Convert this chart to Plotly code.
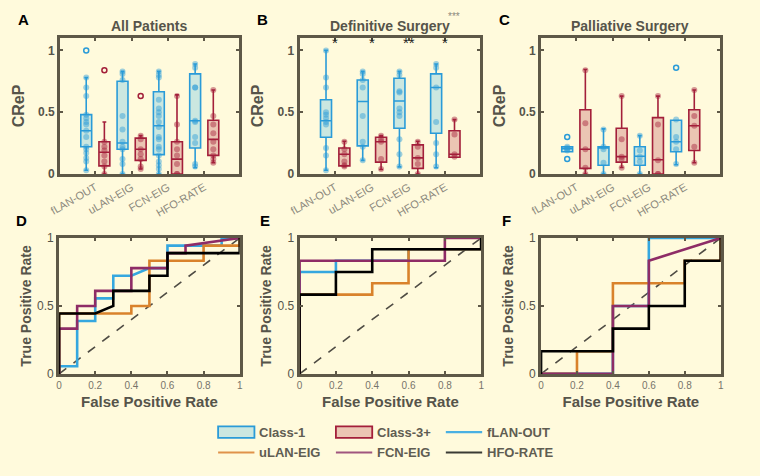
import plotly.graph_objects as go

# box statistics, order: Class-1 / Class-3+ for fLAN-OUT, uLAN-EIG, FCN-EIG, HFO-RATE
GROUPS = ["fLAN-OUT", "uLAN-EIG", "FCN-EIG", "HFO-RATE"]

A_Q1 = [0.22, 0.065, 0.20, 0.11, 0.156, 0.0, 0.21, 0.15]
A_MED = [0.35, 0.175, 0.25, 0.20, 0.39, 0.12, 0.43, 0.28]
A_Q3 = [0.48, 0.26, 0.75, 0.29, 0.665, 0.26, 0.81, 0.435]
A_LO = [0.03, 0.0, 0.0, 0.04, 0.0, 0.0, 0.05, 0.09]
A_HI = [0.78, 0.42, 0.83, 0.31, 0.83, 0.64, 0.89, 0.68]
A_OUT = [[1.0], [0.84], [], [0.63], [], [], [], []]
A_PTS = [
    [0.78, 0.70, 0.63, 0.48, 0.45, 0.42, 0.40, 0.35, 0.30, 0.22, 0.20, 0.17, 0.13, 0.10, 0.03],
    [0.26, 0.22, 0.19, 0.15, 0.10, 0.06, 0.0],
    [0.83, 0.81, 0.76, 0.47, 0.36, 0.26, 0.22, 0.20, 0.12, 0.08, 0.0],
    [0.31, 0.28, 0.20, 0.16, 0.12, 0.06, 0.04],
    [0.83, 0.80, 0.78, 0.60, 0.53, 0.50, 0.47, 0.42, 0.38, 0.30, 0.28, 0.22, 0.20, 0.15, 0.10, 0.07, 0.04, 0.0],
    [0.63, 0.40, 0.26, 0.20, 0.15, 0.08, 0.0, 0.0],
    [0.89, 0.86, 0.70, 0.70, 0.43, 0.42, 0.30, 0.25, 0.08, 0.06],
    [0.68, 0.47, 0.40, 0.33, 0.26, 0.20, 0.15, 0.12, 0.09],
]

B_Q1 = [0.297, 0.065, 0.227, 0.096, 0.37, 0.045, 0.33, 0.135]
B_MED = [0.43, 0.16, 0.586, 0.26, 0.59, 0.13, 0.70, 0.16]
B_Q3 = [0.60, 0.21, 0.76, 0.297, 0.775, 0.235, 0.81, 0.35]
B_LO = [0.03, 0.06, 0.11, 0.036, 0.057, 0.0, 0.05, 0.135]
B_HI = [1.0, 0.265, 0.83, 0.31, 0.83, 0.265, 0.89, 0.44]
B_OUT = [[], [], [], [], [], [], [], []]
B_PTS = [
    [1.0, 0.78, 0.70, 0.50, 0.48, 0.45, 0.42, 0.40, 0.21, 0.15, 0.03],
    [0.26, 0.20, 0.16, 0.10, 0.07, 0.06],
    [0.83, 0.81, 0.76, 0.70, 0.47, 0.26, 0.22, 0.11],
    [0.31, 0.28, 0.26, 0.12, 0.04],
    [0.83, 0.80, 0.67, 0.66, 0.53, 0.50, 0.47, 0.28, 0.16, 0.06],
    [0.26, 0.22, 0.13, 0.08, 0.0],
    [0.89, 0.86, 0.70, 0.42, 0.25, 0.16, 0.06],
    [0.44, 0.32, 0.16, 0.14],
]
B_STARS = ["*", "*", "**", "*"]

C_Q1 = [0.18, 0.045, 0.07, 0.096, 0.07, 0.0, 0.18, 0.19]
C_MED = [0.205, 0.20, 0.21, 0.14, 0.143, 0.115, 0.26, 0.39]
C_Q3 = [0.22, 0.52, 0.22, 0.37, 0.22, 0.456, 0.435, 0.52]
C_LO = [0.18, 0.0, 0.0, 0.052, 0.0, 0.0, 0.075, 0.09]
C_HI = [0.22, 0.845, 0.365, 0.63, 0.31, 0.63, 0.435, 0.68]
C_OUT = [[0.30, 0.12], [], [], [], [], [], [0.86], []]
C_PTS = [
    [0.22, 0.21, 0.20, 0.19],
    [0.84, 0.41, 0.20, 0.05, 0.0],
    [0.36, 0.22, 0.20, 0.09, 0.0],
    [0.63, 0.28, 0.14, 0.12, 0.05],
    [0.31, 0.19, 0.14, 0.10, 0.0],
    [0.63, 0.40, 0.11, 0.0, 0.0],
    [0.44, 0.30, 0.26, 0.20, 0.08],
    [0.68, 0.47, 0.39, 0.22, 0.09],
]

# ROC curves (fpr, tpr)
ROC_D = {
    "fLAN-OUT": ([0, 0, 0.1, 0.1, 0.2, 0.2, 0.3, 0.3, 0.4, 0.5, 0.6, 0.6, 0.9, 0.9, 1],
                 [0, 0.056, 0.056, 0.389, 0.389, 0.556, 0.556, 0.722, 0.722, 0.778, 0.778, 0.944, 0.944, 1, 1]),
    "uLAN-EIG": ([0, 0, 0.4, 0.4, 0.5, 0.5, 0.8, 0.8, 1, 1],
                 [0, 0.444, 0.444, 0.5, 0.5, 0.833, 0.833, 0.944, 0.944, 1]),
    "FCN-EIG": ([0, 0, 0.1, 0.1, 0.2, 0.2, 0.4, 0.4, 0.6, 0.6, 0.7, 0.7, 1],
                [0, 0.333, 0.333, 0.5, 0.5, 0.611, 0.611, 0.778, 0.778, 0.889, 0.889, 0.944, 1]),
    "HFO-RATE": ([0, 0, 0.2, 0.3, 0.3, 0.5, 0.5, 0.6, 0.6, 1, 1],
                 [0, 0.444, 0.444, 0.5, 0.611, 0.611, 0.722, 0.722, 0.889, 0.889, 1]),
}
ROC_E = {
    "fLAN-OUT": ([0, 0, 0.2, 0.2, 0.6, 0.6, 1, 1],
                 [0, 0.75, 0.75, 0.833, 0.833, 0.917, 0.917, 1]),
    "uLAN-EIG": ([0, 0, 0.4, 0.4, 0.6, 0.6, 1, 1],
                 [0, 0.583, 0.583, 0.667, 0.667, 0.917, 0.917, 1]),
    "FCN-EIG": ([0, 0, 0.8, 0.8, 1],
                [0, 0.833, 0.833, 1, 1]),
    "HFO-RATE": ([0, 0, 0.2, 0.2, 0.4, 0.4, 1, 1],
                 [0, 0.583, 0.583, 0.75, 0.75, 0.917, 0.917, 1]),
}
ROC_F = {
    "fLAN-OUT": ([0, 0.4, 0.4, 0.6, 0.6, 1],
                 [0, 0, 0.5, 0.5, 1, 1]),
    "uLAN-EIG": ([0, 0.2, 0.2, 0.4, 0.4, 0.8, 0.8, 1, 1],
                 [0, 0, 0.167, 0.167, 0.667, 0.667, 0.833, 0.833, 1]),
    "FCN-EIG": ([0, 0.4, 0.4, 0.6, 0.6, 1],
                [0, 0, 0.5, 0.5, 0.833, 1]),
    "HFO-RATE": ([0, 0, 0.4, 0.4, 0.6, 0.6, 0.8, 0.8, 1, 1],
                 [0, 0.167, 0.167, 0.333, 0.333, 0.5, 0.5, 0.833, 0.833, 1]),
}

BG = "#FFFADC"
FRAME = "#5E5847"
TXT = "#56544A"
TICK = "#77746A"
BLUE = "#2A9BD8"
RED = "#A31F3A"
BLUE_FILL = "#CBE7E0"
RED_FILL = "#EBC5B3"
LINE_COLORS = {"fLAN-OUT": "#35A7DF", "uLAN-EIG": "#D9822B", "FCN-EIG": "#8E2C66", "HFO-RATE": "#000000"}
LEGEND_COLORS = {"fLAN-OUT": "#4AB0E2", "uLAN-EIG": "#E0924A", "FCN-EIG": "#A0557E", "HFO-RATE": "#3A3A34"}
FONT = "Arial, Liberation Sans, sans-serif"

W, H = 760, 476


def px_x(a, b):
    return [a / W, b / W]


def px_y(top, bottom):
    return [1 - bottom / H, 1 - top / H]


fig = go.Figure()

box_panels = [
    (A_Q1, A_MED, A_Q3, A_LO, A_HI, A_OUT, A_PTS),
    (B_Q1, B_MED, B_Q3, B_LO, B_HI, B_OUT, B_PTS),
    (C_Q1, C_MED, C_Q3, C_LO, C_HI, C_OUT, C_PTS),
]

for p, (q1, med, q3, lo, hi, outs, pts) in enumerate(box_panels):
    xa = "x" if p == 0 else f"x{p + 1}"
    ya = "y" if p == 0 else f"y{p + 1}"
    for i in range(8):
        blue = i % 2 == 0
        pos = i // 2 + (-0.25 if blue else 0.25)
        col = BLUE if blue else RED
        fig.add_trace(go.Box(
            x=[pos], q1=[q1[i]], median=[med[i]], q3=[q3[i]],
            lowerfence=[lo[i]], upperfence=[hi[i]],
            width=0.3, whiskerwidth=0.35, boxpoints=False,
            fillcolor=BLUE_FILL if blue else RED_FILL,
            line=dict(color=col, width=1.6),
            name="Class-1" if blue else "Class-3+", showlegend=False,
            xaxis=xa, yaxis=ya, hoverinfo="skip",
        ))
        fig.add_trace(go.Scatter(
            x=[pos] * len(pts[i]), y=pts[i], mode="markers",
            marker=dict(size=6, color=col, opacity=0.45),
            showlegend=False, xaxis=xa, yaxis=ya, cliponaxis=False, hoverinfo="skip",
        ))
        if outs[i]:
            fig.add_trace(go.Scatter(
                x=[pos] * len(outs[i]), y=outs[i], mode="markers",
                marker=dict(size=5, color="rgba(0,0,0,0)", line=dict(color=col, width=1.5)),
                showlegend=False, xaxis=xa, yaxis=ya, cliponaxis=False, hoverinfo="skip",
            ))

roc_panels = [ROC_D, ROC_E, ROC_F]
for p, roc in enumerate(roc_panels):
    xa = f"x{p + 4}"
    ya = f"y{p + 4}"
    fig.add_trace(go.Scatter(
        x=[0, 1], y=[0, 1], mode="lines",
        line=dict(color="#4F4C44", width=1.6, dash="dash"),
        showlegend=False, xaxis=xa, yaxis=ya, hoverinfo="skip",
    ))
    for name in GROUPS:
        fx, ty = roc[name]
        fig.add_trace(go.Scatter(
            x=fx, y=ty, mode="lines",
            line=dict(color=LINE_COLORS[name], width=2.6),
            name=name, showlegend=False,
            xaxis=xa, yaxis=ya, hoverinfo="skip",
        ))

axis_common = dict(
    showline=True, linecolor=FRAME, linewidth=3, mirror="ticks",
    ticks="inside", ticklen=3, tickcolor=FRAME, tickwidth=1.5,
    showgrid=False, zeroline=False, fixedrange=True,
)

top_x = [(50, 232), (294, 478), (540, 722)]
bot_x = [(49, 233), (294, 479), (540, 723)]
layout = {}
for p in range(3):
    sx = "" if p == 0 else str(p + 1)
    layout[f"xaxis{sx}"] = dict(
        axis_common, domain=px_x(*top_x[p]), anchor=f"y{sx}",
        range=[-0.97, 3.95], tickvals=[0, 1, 2, 3], ticktext=GROUPS,
        tickangle=-30, tickfont=dict(size=11, color="#8C897D", family=FONT),
    )
    layout[f"yaxis{sx}"] = dict(
        axis_common, domain=px_y(32, 172), anchor=f"x{sx}",
        range=[0, 1.1], tickvals=[0, 0.5, 1], ticktext=["<b>0</b>", "<b>0.5</b>", "<b>1</b>"],
        tickfont=dict(size=12, color=TXT, family=FONT),
        title=dict(text="<b>CReP</b>", font=dict(size=16, color=TXT, family=FONT), standoff=10),
    )
for p in range(3):
    sx = str(p + 4)
    layout[f"xaxis{sx}"] = dict(
        axis_common, domain=px_x(*bot_x[p]), anchor=f"y{sx}",
        range=[0, 1], tickvals=[0, 0.2, 0.4, 0.6, 0.8, 1],
        ticktext=["0", "0.2", "0.4", "0.6", "0.8", "1"],
        tickfont=dict(size=10, color=TICK, family=FONT),
        title=dict(text="<b>False Positive Rate</b>", font=dict(size=15, color=TXT, family=FONT), standoff=7),
    )
    layout[f"yaxis{sx}"] = dict(
        axis_common, domain=px_y(238, 378), anchor=f"x{sx}",
        range=[0, 1], tickvals=[0, 0.5, 1], ticktext=["0", "0.5", "1"],
        tickfont=dict(size=12, color=TXT, family=FONT),
        title=dict(text="<b>True Positive Rate</b>", font=dict(size=14, color=TXT, family=FONT), standoff=3),
    )

annotations = []
titles = ["All Patients", "Definitive Surgery", "Palliative Surgery"]
for p in range(3):
    cx = (top_x[p][0] + top_x[p][1]) / 2 / W
    annotations.append(dict(
        text=f"<b>{titles[p]}</b>", x=cx, y=1 - 20 / H, xref="paper", yref="paper",
        xanchor="center", yanchor="middle",
        showarrow=False, font=dict(size=14, color=TXT, family=FONT),
    ))
annotations.append(dict(text="***", x=451 / W, y=1 - 10 / H, xref="paper", yref="paper",
                        xanchor="center", yanchor="middle",
                        showarrow=False, font=dict(size=10, color="#8C897D", family=FONT)))
for g, s in enumerate(B_STARS):
    annotations.append(dict(text=s, x=g, y=0.98, xref="x2", yref="y2", xanchor="center", yanchor="bottom",
                            showarrow=False, font=dict(size=15, color="#222", family=FONT)))

letters = [("A", 13, 13), ("B", 256, 13), ("C", 503, 13), ("D", 11, 220), ("E", 259, 220), ("F", 505, 220)]
for t, lx, ly in letters:
    annotations.append(dict(text=f"<b>{t}</b>", x=lx / W, y=1 - ly / H, xref="paper", yref="paper",
                            xanchor="center", yanchor="middle",
                            showarrow=False, font=dict(size=15, color="#000", family=FONT)))

# legend, built from shapes and text in paper space
shapes = []
leg_cols = [211, 331, 443]
leg_rows = [438, 459]
leg_items = [("Class-1", "box", BLUE, BLUE_FILL), ("Class-3+", "box", RED, RED_FILL),
             ("fLAN-OUT", "line", LEGEND_COLORS["fLAN-OUT"], None),
             ("uLAN-EIG", "line", LEGEND_COLORS["uLAN-EIG"], None),
             ("FCN-EIG", "line", LEGEND_COLORS["FCN-EIG"], None),
             ("HFO-RATE", "line", LEGEND_COLORS["HFO-RATE"], None)]
for k, (label, kind, col, fill) in enumerate(leg_items):
    x0 = leg_cols[k % 3]
    yc = leg_rows[k // 3]
    x1 = x0 + 37
    if kind == "box":
        shapes.append(dict(type="rect", xref="paper", yref="paper",
                           x0=x0 / W, x1=x1 / W, y0=1 - (yc + 6) / H, y1=1 - (yc - 6) / H,
                           fillcolor=fill, line=dict(color=col, width=1.8)))
    else:
        shapes.append(dict(type="line", xref="paper", yref="paper",
                           x0=x0 / W, x1=x1 / W, y0=1 - yc / H, y1=1 - yc / H,
                           line=dict(color=col, width=2.2)))
    annotations.append(dict(text=f"<b>{label}</b>", x=(x1 + 3) / W, y=1 - yc / H, xref="paper", yref="paper",
                            xanchor="left", yanchor="middle", showarrow=False,
                            font=dict(size=13, color="#5F5D52", family=FONT)))

fig.update_layout(
    width=W, height=H, autosize=False,
    paper_bgcolor=BG, plot_bgcolor=BG,
    margin=dict(l=0, r=0, t=0, b=0),
    showlegend=False,
    annotations=annotations,
    shapes=shapes,
    **layout,
)

fig.write_html(
    "out.html", config={"displayModeBar": False, "responsive": False},
    post_script=(
        "document.body.style.margin='0';document.body.style.overflow='hidden';"
        "var gd=document.getElementById('{plot_id}');"
        "Plotly.relayout(gd,{width:760,height:476});"
    ),
)
